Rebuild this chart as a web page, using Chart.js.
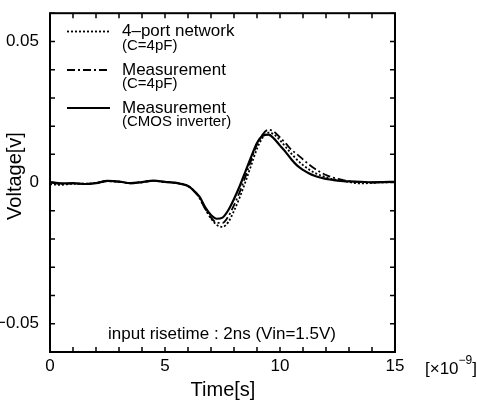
<!DOCTYPE html>
<html>
<head>
<meta charset="utf-8">
<script src="https://cdn.jsdelivr.net/npm/chart.js@4/dist/chart.umd.min.js"></script>
<style>
  body { margin: 0; background: #fff; }
  #wrap { width: 477px; height: 401px; }
</style>
</head>
<body>
<div id="wrap"><canvas id="grafica" width="477" height="401"></canvas></div>
<script>
// time axis in ns (x 1e-9 s)
var tiempo = [0, 0.5, 1, 1.5, 2, 2.5, 3, 3.5, 4, 4.5, 5, 5.5, 6, 6.25, 6.5, 6.75, 7, 7.25, 7.5, 7.75,
  8, 8.25, 8.5, 8.75, 9, 9.25, 9.5, 9.75, 10, 10.25, 10.5, 10.75, 11, 11.25, 11.5, 11.75, 12, 12.25,
  12.5, 12.75, 13, 13.5, 14, 14.5, 15];

var red4puertos = [-0.0006, -0.0008, -0.0004, -0.0004, -0.0001, 0.0005, 0.0003, -0.0002, 0.0002, 0.0006,
  0.0002, -0.0001, -0.0011, -0.0028, -0.0054, -0.0093, -0.0127, -0.0150, -0.0157, -0.0140,
  -0.0100, -0.0052, 0.0003, 0.0062, 0.0120, 0.0160, 0.0177, 0.0170, 0.0150, 0.0126, 0.0102,
  0.0080, 0.0062, 0.0047, 0.0035, 0.0026, 0.0019, 0.0013, 0.0009, 0.0006, 0.0002, -0.0003,
  -0.0001, 0.0001, 0.0002];

var medicionC4 = [0.0001, -0.0004, -0.0003, -0.0005, -0.0001, 0.0005, 0.0003, -0.0003, 0.0001, 0.0006,
  0.0002, -0.0002, -0.0013, -0.0030, -0.0055, -0.0094, -0.0124, -0.0142, -0.0143, -0.0120,
  -0.0080, -0.0033, 0.0022, 0.0080, 0.0135, 0.0171, 0.0187, 0.0180, 0.0160, 0.0139, 0.0116,
  0.0100, 0.0082, 0.0065, 0.0050, 0.0037, 0.0027, 0.0019, 0.0013, 0.0009, 0.0005, 0.0002,
  0.0001, 0.0001, 0.0002];

var medicionCMOS = [0.0002, -0.0003, -0.0002, -0.0005, -0.0002, 0.0006, 0.0004, -0.0002, 0.0002, 0.0007,
  0.0003, -0.0001, -0.0012, -0.0028, -0.0050, -0.0088, -0.0115, -0.0128, -0.0124, -0.0098,
  -0.0058, -0.0012, 0.0040, 0.0092, 0.0140, 0.0166, 0.0170, 0.0155, 0.0131, 0.0108, 0.0082,
  0.0060, 0.0045, 0.0033, 0.0024, 0.0018, 0.0013, 0.0010, 0.0007, 0.0005, 0.0004, 0.0003,
  0.0001, 0.0002, 0.0003];

var etiquetasY = {'-5': '\u22120.05', '0': '0', '5': '0.05'};
var leyenda = [
  ['4\u2013port network', '(C=4pF)'],
  ['Measurement', '(C=4pF)'],
  ['Measurement', '(CMOS inverter)']
];

var fuente = 'Liberation Sans, Arial, Helvetica, sans-serif';

function serie(valores) {
  return tiempo.map(function (t, i) { return {x: t, y: valores[i]}; });
}

var datos = [
  {label: leyenda[0].join(' '), data: serie(red4puertos), borderDash: [2, 2], borderWidth: 1.8},
  {label: leyenda[1].join(' '), data: serie(medicionC4), borderDash: [8, 3, 2, 3], borderWidth: 1.8},
  {label: leyenda[2].join(' '), data: serie(medicionCMOS), borderDash: [], borderWidth: 2.2}
];
datos.forEach(function (d) {
  d.borderColor = '#000';
  d.pointRadius = 0;
  d.fill = false;
  d.cubicInterpolationMode = 'monotone';
});

// ticks pointing inwards, frame, legend and notes
var extras = {
  id: 'extras',
  afterDraw: function (chart) {
    var ctx = chart.ctx;
    var a = chart.chartArea;
    var sx = chart.scales.x, sy = chart.scales.y;
    ctx.save();
    ctx.strokeStyle = '#000';
    ctx.lineWidth = 1.5;
    ctx.beginPath();
    for (var i = 0; i <= 15; i++) {
      var px = sx.getPixelForValue(i);
      ctx.moveTo(px, a.bottom); ctx.lineTo(px, a.bottom - 5);
      ctx.moveTo(px, a.top); ctx.lineTo(px, a.top + 5);
    }
    for (var j = -6; j <= 6; j++) {
      var py = sy.getPixelForValue(j / 100);
      ctx.moveTo(a.left, py); ctx.lineTo(a.left + 5, py);
      ctx.moveTo(a.right, py); ctx.lineTo(a.right - 5, py);
    }
    ctx.stroke();
    ctx.lineWidth = 2;
    ctx.strokeRect(a.left, a.top, a.right - a.left, a.bottom - a.top);

    // legend
    var filas = [31.5, 70, 108];
    ctx.fillStyle = '#000';
    ctx.textBaseline = 'middle';
    ctx.textAlign = 'left';
    datos.forEach(function (d, k) {
      ctx.setLineDash(d.borderDash);
      ctx.lineWidth = d.borderWidth;
      ctx.beginPath();
      ctx.moveTo(67, filas[k]); ctx.lineTo(110, filas[k]);
      ctx.stroke();
      ctx.setLineDash([]);
      ctx.font = '17px ' + fuente;
      ctx.fillText(leyenda[k][0], 122, filas[k]);
      ctx.font = '15px ' + fuente;
      ctx.fillText(leyenda[k][1], 122, filas[k] + 14);
    });

    ctx.font = '17px ' + fuente;
    ctx.textAlign = 'center';
    ctx.fillText('input risetime : 2ns (Vin=1.5V)', 222, 334);

    ctx.font = '20px ' + fuente;
    ctx.fillText('Time[s]', 223, 390);
    ctx.save();
    ctx.translate(15, 176);
    ctx.rotate(-Math.PI / 2);
    ctx.fillText('Voltage[v]', 0, 0);
    ctx.restore();

    // exponent
    ctx.textAlign = 'left';
    ctx.font = '17px ' + fuente;
    var x0 = 425;
    ctx.fillText('[\u00d710', x0, 369);
    var w = ctx.measureText('[\u00d710').width;
    ctx.font = '12px ' + fuente;
    ctx.fillText('\u22129', x0 + w, 361);
    var w2 = ctx.measureText('\u22129').width;
    ctx.font = '17px ' + fuente;
    ctx.fillText(']', x0 + w + w2, 369);
    ctx.restore();
  }
};

new Chart(document.getElementById('grafica'), {
  type: 'line',
  data: {datasets: datos},
  options: {
    responsive: false,
    animation: false,
    layout: {padding: {left: 0, right: 82, top: 12, bottom: 0}},
    plugins: {legend: {display: false}, tooltip: {enabled: false}},
    scales: {
      x: {
        type: 'linear',
        min: 0, max: 15,
        grid: {display: false},
        border: {display: false},
        ticks: {
          stepSize: 1,
          autoSkip: false,
          maxRotation: 0,
          padding: -4,
          color: '#000',
          font: {size: 17, family: fuente},
          callback: function (v) { return v % 5 === 0 ? String(v) : ''; }
        },
        afterFit: function (s) { s.height = 49; }
      },
      y: {
        min: -0.06, max: 0.06,
        grid: {display: false},
        border: {display: false},
        ticks: {
          stepSize: 0.01,
          autoSkip: false,
          padding: 3,
          color: '#000',
          font: {size: 17, family: fuente},
          callback: function (v) {
            var k = String(Math.round(v * 100));
            return etiquetasY[k] || '';
          }
        },
        afterFit: function (s) { s.width = 50; }
      }
    }
  },
  plugins: [extras]
});
</script>
</body>
</html>
